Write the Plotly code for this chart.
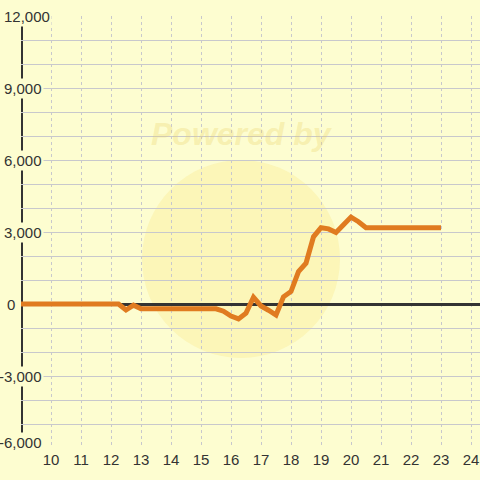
import plotly.graph_objects as go

# ---- data ----
hours = [9, 12, 12.25, 12.5, 12.75, 13, 15.5, 15.75, 16, 16.25, 16.5, 16.75,
         17, 17.25, 17.5, 17.75, 18, 18.25, 18.5, 18.75, 19, 19.25, 19.5,
         19.75, 20, 20.25, 20.5, 23]
values = [0, 0, 0, -250, -50, -200, -200, -300, -500, -620, -380, 280,
          -80, -260, -460, 300, 520, 1350, 1700, 2800, 3180, 3130, 2980,
          3300, 3620, 3430, 3180, 3180]
x_ticks = list(range(10, 25))
y_ticks = [-6000, -3000, 0, 3000, 6000, 9000, 12000]
y_tick_labels = ["-6,000", "-3,000", "0", "3,000", "6,000", "9,000", "12,000"]

BG = "#fdfdd0"
DARK = "#333333"
GRID = "#c8c8cc"
FONT = "Liberation Sans, Arial, sans-serif"

fig = go.Figure()
fig.add_trace(go.Scatter(
    x=hours, y=values, mode="lines",
    line=dict(color="#e07b20", width=5),
    hoverinfo="skip", showlegend=False,
))

# watermark (decorative)
fig.add_shape(type="circle", xref="paper", yref="paper",
              x0=(142 - 21) / 459, x1=(340 - 21) / 459,
              y0=(448 - 358) / 432, y1=(448 - 160) / 432,
              fillcolor="rgba(250,232,140,0.35)", line=dict(width=0),
              layer="below")
fig.add_annotation(text="<b><i>Powered by</i></b>", xref="paper", yref="paper",
                   x=(242 - 21) / 459, y=(448 - 134) / 432, showarrow=False,
                   xanchor="center", yanchor="middle",
                   font=dict(size=32, color="rgba(232,208,100,0.3)", family=FONT))

# y axis line at x = 9
fig.add_shape(type="line", xref="x", yref="y", x0=9, x1=9,
              y0=y_ticks[0], y1=y_ticks[-1],
              line=dict(color=DARK, width=4), layer="below")

# y tick labels (masking the axis line like the original)
for v, lab in zip(y_ticks, y_tick_labels):
    if lab == "0":
        shift = -4
    elif lab == "12,000":
        shift = 31
    else:
        shift = 23
    yshift = 6 if v == y_ticks[0] else 0
    fig.add_annotation(text=lab, xref="paper", yref="y", x=0, y=v,
                       xanchor="right", yanchor="middle", xshift=shift,
                       yshift=yshift,
                       showarrow=False, bgcolor=BG, borderpad=1,
                       font=dict(size=15, color=DARK, family=FONT))

fig.update_layout(
    width=480, height=480,
    margin=dict(l=21, r=0, t=16, b=32, autoexpand=False),
    paper_bgcolor=BG, plot_bgcolor=BG,
    font=dict(family=FONT, size=15, color=DARK),
    xaxis=dict(range=[9, 24.3], tickvals=x_ticks, ticks="", automargin=False,
               showgrid=True, gridcolor=GRID, griddash="3px,3px", gridwidth=1,
               zeroline=False, showline=False, ticklabelstandoff=1,
               tickfont=dict(size=15, color=DARK, family=FONT)),
    yaxis=dict(range=[-6000, 12000], dtick=1000, tick0=0, showticklabels=False,
               ticks="", showgrid=True, gridcolor=GRID, gridwidth=1,
               automargin=False,
               zeroline=True, zerolinecolor=DARK, zerolinewidth=3,
               showline=False),
)

fig.write_html("out.html",
               config={"displayModeBar": False},
               post_script="document.body.style.margin='0';"
                           "document.body.style.background='" + BG + "';")
